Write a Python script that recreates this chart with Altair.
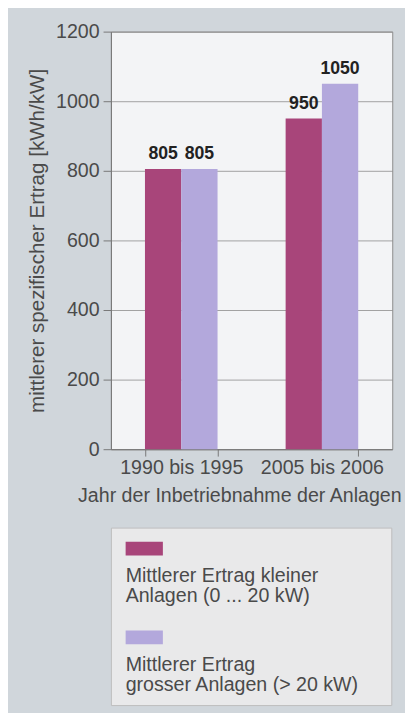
import altair as alt
import pandas as pd

# ---- data ----
categories = ["1990 bis 1995", "2005 bis 2006"]
series = ["klein", "gross"]
series_labels = [
    "Mittlerer Ertrag kleiner\nAnlagen (0 ... 20 kW)",
    "Mittlerer Ertrag\ngrosser Anlagen (> 20 kW)",
]
small_values = [805, 950]
large_values = [805, 1050]
colors = ["#a8457a", "#b3a8dc"]
y_ticks = [0, 200, 400, 600, 800, 1000, 1200]

rows = []
for i, c in enumerate(categories):
    rows.append({"period": c, "series": series[0], "value": small_values[i]})
    rows.append({"period": c, "series": series[1], "value": large_values[i]})
df = pd.DataFrame(rows)

legend_df = pd.DataFrame({"series": series, "label": series_labels})

FONT = "Liberation Sans"
TXT = "#4a4a4a"

color_scale = alt.Scale(domain=series, range=colors)

x_enc = alt.X(
    "period:N",
    sort=categories,
    scale=alt.Scale(paddingInner=0.484, paddingOuter=0.242),
    axis=alt.Axis(
        title="Jahr der Inbetriebnahme der Anlagen",
        labelAngle=0,
        tickBand="extent",
        tickSize=7,
        labelPadding=2,
        titlePadding=8,
        titleX=131,
    ),
)
y_enc = alt.Y(
    "value:Q",
    scale=alt.Scale(domain=[0, 1200]),
    axis=alt.Axis(
        title="mittlerer spezifischer Ertrag [kWh/kW]",
        values=y_ticks,
        format="d",
        tickSize=8,
        labelPadding=4,
        titlePadding=8,
        titleFontSize=21,
        grid=True,
    ),
)

bars = alt.Chart(df).mark_bar().encode(
    x=x_enc,
    xOffset=alt.XOffset("series:N", sort=series, scale=alt.Scale(paddingInner=0, paddingOuter=0)),
    y=y_enc,
    color=alt.Color("series:N", scale=color_scale, legend=None),
)

labels = alt.Chart(df).mark_text(
    font=FONT, fontSize=18, fontWeight="bold", color="#222222", baseline="alphabetic", dy=-10
).encode(
    x=alt.X("period:N", sort=categories),
    xOffset=alt.XOffset("series:N", sort=series),
    y="value:Q",
    text="value:Q",
)

main = alt.layer(bars, labels).properties(
    width=287,
    height=426,
    view=alt.ViewBackground(fill="#f3f4f6", stroke="#8a8a8a", strokeWidth=1),
)

leg_y = alt.Y("series:N", sort=series, axis=None,
              scale=alt.Scale(paddingInner=0, paddingOuter=0.0284))

leg_sym = alt.Chart(legend_df).mark_point(
    shape="M-1,-0.37H1V0.37H-1Z", filled=True, opacity=1, size=1444, yOffset=-23.8
).encode(
    x=alt.value(34),
    y=leg_y,
    color=alt.Color("series:N", scale=color_scale, legend=None),
)

leg_txt = alt.Chart(legend_df).mark_text(
    font=FONT, fontSize=20, color=TXT, align="left", baseline="alphabetic",
    lineBreak="\n", lineHeight=20.6, dy=10.2,
).encode(
    x=alt.value(15),
    y=leg_y,
    text="label:N",
)

legend_box = alt.layer(leg_sym, leg_txt).properties(
    width=286,
    height=181,
    view=alt.ViewBackground(fill="#e9e9ea", stroke="#bdbdbd", strokeWidth=1),
)

chart = alt.vconcat(main, legend_box, spacing=21).properties(
    background="#d0d6db",
    padding={"left": 19, "top": 6, "right": 2, "bottom": 0},
).configure_axis(
    labelFont=FONT,
    titleFont=FONT,
    labelFontSize=20,
    titleFontSize=20,
    labelColor=TXT,
    titleColor=TXT,
    titleFontWeight="normal",
    domainColor="#777777",
    tickColor="#777777",
    gridColor="#8a8a8a",
    gridWidth=0.8,
    domainWidth=1,
).configure_axisX(grid=False)

chart.save("out.html", embed_options={"renderer": "svg", "actions": False})
